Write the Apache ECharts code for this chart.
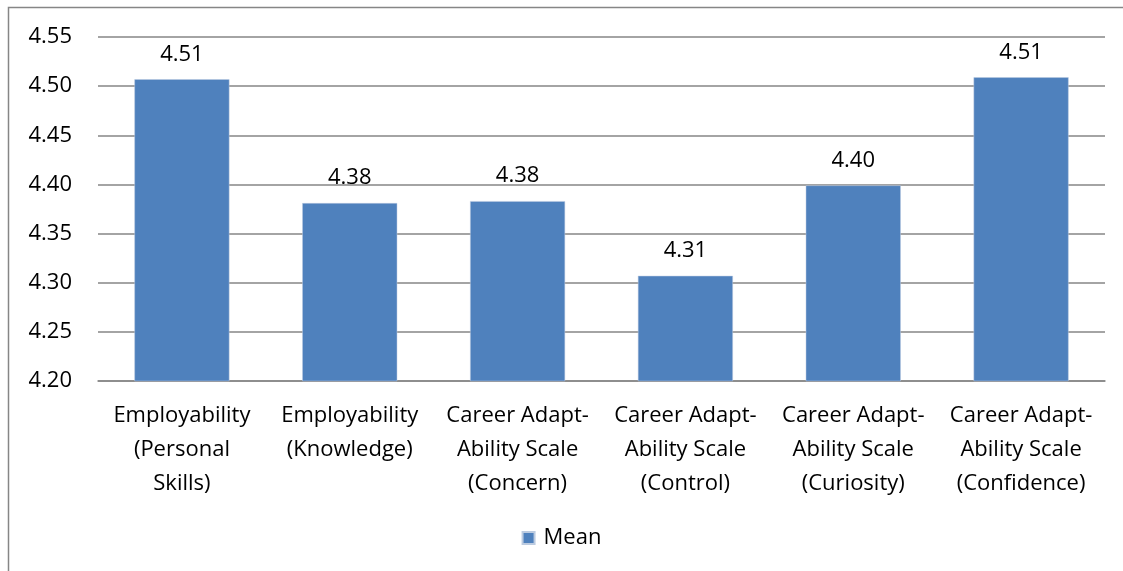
<!DOCTYPE html>
<html><head><meta charset="utf-8">
<script src="https://cdn.jsdelivr.net/npm/echarts@6/dist/echarts.min.js"></script>
<style>html,body{margin:0;padding:0;background:#fff}#c{width:1123px;height:571px}</style>
</head><body><div id="c"></div>
<script>
var categories = ["Employability\n(Personal\nSkills)","Employability\n(Knowledge)","Career Adapt-\nAbility Scale\n(Concern)","Career Adapt-\nAbility Scale\n(Control)","Career Adapt-\nAbility Scale\n(Curiosity)","Career Adapt-\nAbility Scale\n(Confidence)"];
var meanValues = [4.507, 4.381, 4.383, 4.307, 4.399, 4.509];
var seriesName = "Mean";
var FONT = "Open Sans";
var FS = 22;
var chart = echarts.init(document.getElementById('c'));
chart.setOption({
  animation:false,
  textStyle:{fontFamily:FONT},
  graphic:[{type:'rect',shape:{x:8.5,y:7.5,width:1200,height:700},style:{fill:'none',stroke:'#868686',lineWidth:1.5},silent:true}],
  grid:{left:98,right:18,top:37,bottom:190},
  legend:{bottom:17,left:'center',itemWidth:12,itemHeight:12,itemGap:10,icon:'rect',textStyle:{fontFamily:FONT,fontSize:FS,color:'#000',padding:[0,0,0,4]},data:[seriesName]},
  xAxis:{type:'category',data:categories,axisTick:{show:false},axisLine:{lineStyle:{color:'#868686',width:1.5}},
    axisLabel:{color:'#000',fontSize:FS,lineHeight:34,margin:18,interval:0,fontFamily:FONT}},
  yAxis:{type:'value',min:4.20,max:4.55,interval:0.05,axisLine:{show:false},axisTick:{show:false},
    splitLine:{lineStyle:{color:'#868686',width:1.5}},
    axisLabel:{color:'#000',fontSize:FS,margin:26,fontFamily:FONT,formatter:function(v){return v.toFixed(2);}}},
  series:[{name:seriesName,type:'bar',data:meanValues,barWidth:95,
    itemStyle:{color:'#4F81BD',borderColor:'#BCCBE0',borderWidth:0.5},
    label:{show:true,position:'top',distance:14,color:'#000',fontSize:FS,fontFamily:FONT,formatter:function(p){return p.value.toFixed(2);}}}]
});
</script></body></html>
